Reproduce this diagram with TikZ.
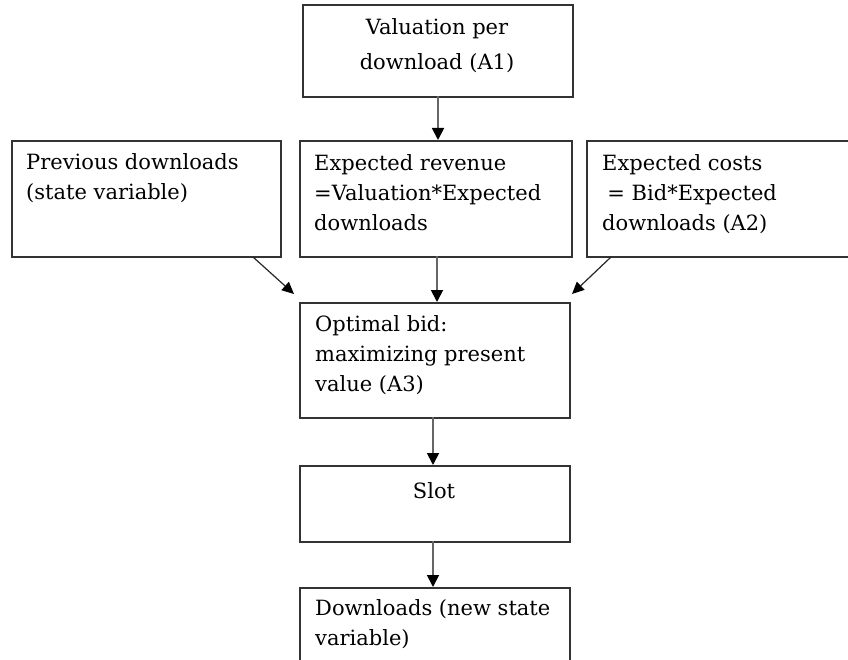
\documentclass[tikz,border=0pt]{standalone}
\usepackage{fontspec}
\setmainfont{DejaVu Serif}
\usetikzlibrary{arrows.meta}
\begin{document}
\begin{tikzpicture}[x=1pt,y=-1pt,
  box/.style={draw=black!80, line width=1.7pt, rectangle, inner sep=0pt, anchor=north west},
  txt/.style={inner sep=0pt, anchor=base west, align=left, font=\fontsize{21}{30}\selectfont},
  ctxt/.style={inner sep=0pt, anchor=base, align=center, font=\fontsize{21}{35}\selectfont},
  arr/.style={draw=black!60, line width=1.8pt, -{Triangle[length=12pt,width=12pt,fill=black,color=black]}},
  darr/.style={draw=black!85, line width=1.2pt, -{Triangle[length=12pt,width=11pt,fill=black,color=black]}}]
\clip (0,0) rectangle (848,660);
\fill[white] (0,0) rectangle (848,660);
% boxes
\node[box, minimum width=270pt, minimum height=92pt] (val) at (302,4) {};
\node[box, minimum width=269pt, minimum height=116pt] (prev) at (11,140) {};
\node[box, minimum width=272pt, minimum height=116pt] (rev) at (299,140) {};
\node[box, minimum width=280pt, minimum height=116pt] (cost) at (586,140) {};
\node[box, minimum width=270pt, minimum height=115pt] (opt) at (299,302) {};
\node[box, minimum width=270pt, minimum height=76pt] (slot) at (299,465) {};
\node[box, minimum width=270pt, minimum height=100pt] (dl) at (299,587) {};
% texts (anchor = baseline of the last line)
\node[ctxt] (tval) at (437,70) {Valuation per\\download (A1)};
\node[txt] (tprev) at (26,200) {Previous downloads\\(state variable)};
\node[txt] (trev) at (314,231) {Expected revenue\\=Valuation*Expected\\downloads};
\node[txt] (tcost) at (602,231) {Expected costs\\\hspace{0.25em}= Bid*Expected\\downloads (A2)};
\node[txt] (topt) at (315,391) {Optimal bid:\\maximizing present\\value (A3)};
\node[ctxt] (tslot) at (434,498) {Slot};
\node[txt] (tdl) at (315,645) {Downloads (new state\\variable)};
% coordinates
\coordinate (a1s) at (438,96);
\coordinate (a1e) at (438,140);
\coordinate (a2s) at (437,256);
\coordinate (a2e) at (437,302);
\coordinate (a3s) at (433,417);
\coordinate (a3e) at (433,465);
\coordinate (a4s) at (433,541);
\coordinate (a4e) at (433,587);
\coordinate (l1) at (253,257);
\coordinate (l2) at (294,294);
\coordinate (r1) at (611,257);
\coordinate (r2) at (572,294);
% arrows
\draw[arr] (a1s) -- (a1e);
\draw[arr] (a2s) -- (a2e);
\draw[arr] (a3s) -- (a3e);
\draw[arr] (a4s) -- (a4e);
\draw[darr] (l1) -- (l2);
\draw[darr] (r1) -- (r2);
\end{tikzpicture}
\end{document}
